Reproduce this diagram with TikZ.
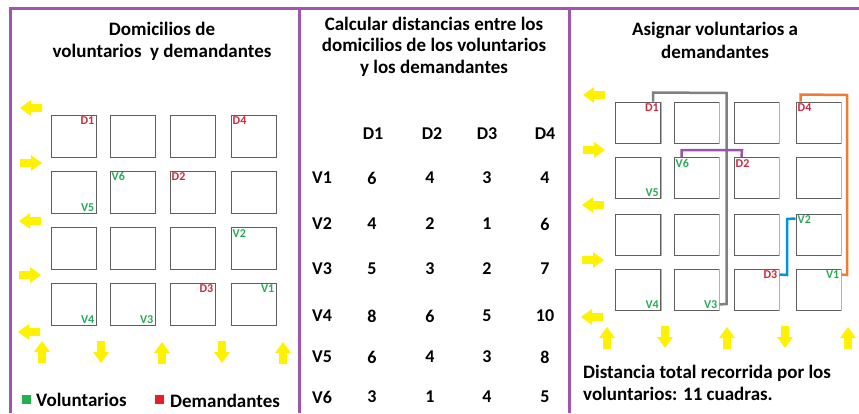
\documentclass[tikz,border=0pt]{standalone}
\usepackage{fontspec}
\setmainfont{Carlito}
\usetikzlibrary{calc}
\definecolor{pborder}{RGB}{160,85,175}
\definecolor{yel}{RGB}{255,242,0}
\definecolor{vgreen}{RGB}{40,170,85}
\definecolor{dred}{RGB}{205,40,60}
\definecolor{lgreen}{RGB}{34,177,76}
\definecolor{lred}{RGB}{237,28,36}
\definecolor{boxgray}{RGB}{95,95,95}
\definecolor{cgray}{RGB}{128,128,128}
\definecolor{cpurple}{RGB}{160,80,175}
\definecolor{corange}{RGB}{240,125,45}
\definecolor{cblue}{RGB}{0,150,220}
\newcommand{\yarr}[3]{\begin{scope}[shift={(#1,#2)},rotate=#3]
\fill[yel] (-11,-3.8) -- (0,-3.8) -- (0,-8) -- (11,0) -- (0,8) -- (0,3.8) -- (-11,3.8) -- cycle;
\end{scope}}
\tikzset{
  house/.style={draw=boxgray,line width=1pt,minimum width=45pt,minimum height=42pt,inner sep=0pt},
  housel/.style={draw=boxgray,line width=1pt,minimum width=45pt,minimum height=41pt,inner sep=0pt},
  vlab/.style={text=vgreen,font=\bfseries\fontsize{12}{14}\selectfont,inner sep=2pt},
  dlab/.style={text=dred,font=\bfseries\fontsize{12}{14}\selectfont,inner sep=2pt},
  title/.style={font=\bfseries\fontsize{19}{21.5}\selectfont,align=center},
  tab/.style={font=\bfseries\fontsize{18}{20}\selectfont},
  conn/.style={line width=2.5pt},
}
\begin{document}
\begin{tikzpicture}[x=1pt,y=-1pt]
\useasboundingbox (0,0) rectangle (859,413);
% borders
\draw[pborder,line width=3pt] (859,8) -- (10,8) -- (10,413);
\draw[pborder,line width=3pt] (299,8) -- (299,413);
\draw[pborder,line width=3pt] (569,8) -- (569,413);

% ---------- left panel ----------
\node[title] (lt) at (162,41.5) {Domicilios de\\voluntarios\ \ y demandantes};
\foreach \r/\y in {1/136.5,2/192,3/248.5,4/304}{
  \foreach \c/\x in {1/73.5,2/132.5,3/192.5,4/253.5}{
    \node[house] (L\r\c) at (\x,\y) {};
  }
}
\node[dlab,anchor=north east] at (L11.north east) {D1};
\node[dlab,anchor=north west] at (L14.north west) {D4};
\node[vlab,anchor=north west] at (L22.north west) {V6};
\node[dlab,anchor=north west] at (L23.north west) {D2};
\node[vlab,anchor=south east] at (L21.south east) {V5};
\node[vlab,anchor=north west] at (L34.north west) {V2};
\node[dlab,anchor=north east] at (L43.north east) {D3};
\node[vlab,anchor=north east] at (L44.north east) {V1};
\node[vlab,anchor=south east] at (L41.south east) {V4};
\node[vlab,anchor=south east] at (L42.south east) {V3};
\yarr{31}{108}{180}
\yarr{31}{163}{0}
\yarr{30}{221}{180}
\yarr{30}{275}{0}
\yarr{29}{332}{180}
\yarr{42}{352}{90}
\yarr{101}{352}{-90}
\yarr{162}{353}{90}
\yarr{222}{352}{-90}
\yarr{283}{353}{90}
\fill[lgreen] (22,395) rectangle (31,404);
\node[anchor=west,font=\bfseries\fontsize{19}{21}\selectfont,inner sep=0pt] (lv) at (36,399.5) {Voluntarios};
\fill[lred] (155,395) rectangle (164,404);
\node[anchor=west,font=\bfseries\fontsize{19}{21}\selectfont,inner sep=0pt] (ld) at (170,400.5) {Demandantes};

% ---------- middle panel ----------
\node[title] (mt) at (434,46.5) {Calcular distancias entre los\\domicilios de los voluntarios\\y los demandantes};
\foreach \h/\x in {D1/373,D2/432,D3/487,D4/545}{
  \node[tab] (h\h) at (\x,134) {\h};
}
\foreach \v/\y/\a/\b/\c/\d in {V1/178/6/4/3/4,V2/224/4/2/1/6,V3/269/5/3/2/7,V4/316/8/6/5/10,V5/357/6/4/3/8,V6/397/3/1/4/5}{
  \node[tab] (r\v) at (322,\y) {\v};
  \node[tab] (\v a) at (372,\y) {\a};
  \node[tab] (\v b) at (430,\y) {\b};
  \node[tab] (\v c) at (487,\y) {\c};
  \node[tab] (\v d) at (545,\y) {\d};
}

% ---------- right panel ----------
\node[title,font=\bfseries\fontsize{19}{23}\selectfont] (rt) at (715,40.5) {Asignar voluntarios a\\demandantes};
\foreach \r/\y in {1/122.5,2/178,3/234.5,4/289.5}{
  \foreach \c/\x in {1/638,2/696.5,3/756.5,4/818.5}{
    \node[housel] (R\r\c) at (\x,\y) {};
    \draw[black!30,line width=1pt] (R\r\c.north east) -- (R\r\c.south east);
  }
}
% connectors
\draw[conn,cgray] ([xshift=-8pt]R11.north east) -- ++(0,-9) -- (726.5,93) -- (726.5,304) -- ([yshift=6pt]R42.south east);
\draw[conn,cpurple] ([xshift=8pt]R22.north west) -- ++(0,-7) -- (742,150) -- ([xshift=8pt]R23.north west);
\draw[conn,corange] ([xshift=5pt]R14.north west) -- ++(0,-7) -- (847,95) -- (847,275) -- ([yshift=-6pt]R44.north east);
\draw[conn,cblue] ([yshift=-6pt]R43.north east) -- (787,275) -- (787,219) -- ([yshift=-5pt]R34.north west);
\node[dlab,anchor=north east] at (R11.north east) {D1};
\node[dlab,anchor=north west] at (R14.north west) {D4};
\node[vlab,anchor=north west] at (R22.north west) {V6};
\node[dlab,anchor=north west] at (R23.north west) {D2};
\node[vlab,anchor=south east] at (R21.south east) {V5};
\node[vlab,anchor=north west] at (R34.north west) {V2};
\node[dlab,anchor=north east] at (R43.north east) {D3};
\node[vlab,anchor=north east] at (R44.north east) {V1};
\node[vlab,anchor=south east] at (R41.south east) {V4};
\node[vlab,anchor=south east] at (R42.south east) {V3};
\yarr{594}{95}{180}
\yarr{594}{150}{0}
\yarr{593}{205}{180}
\yarr{593}{260}{0}
\yarr{592}{317}{180}
\yarr{607}{338}{90}
\yarr{665}{337}{-90}
\yarr{727}{338}{90}
\yarr{785}{337}{-90}
\yarr{848}{338}{90}
\node[anchor=west,font=\bfseries\fontsize{19}{22}\selectfont,align=left,inner sep=0pt] (tot) at (583,383) {Distancia total recorrida por los\\voluntarios: 11 cuadras.};
\end{tikzpicture}
\end{document}
